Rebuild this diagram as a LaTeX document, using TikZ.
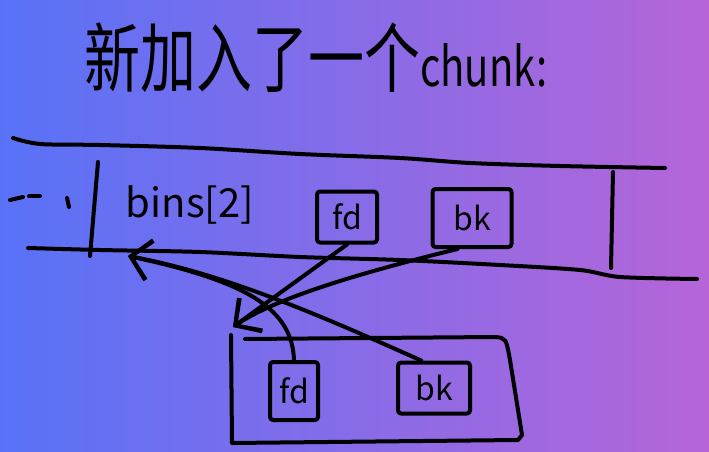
\documentclass[tikz,border=0pt]{standalone}
\usepackage{fontspec}
\setmainfont{Noto Sans CJK SC}
\usetikzlibrary{arrows.meta}
\definecolor{bgleft}{RGB}{88,114,247}
\definecolor{bgright}{RGB}{182,101,216}
\begin{document}
\begin{tikzpicture}[x=1pt,y=-1pt,
  ink/.style={line width=4pt, line cap=round, line join=round, draw=black},
  hbox/.style={ink, rectangle, rounded corners=3pt, inner sep=0pt, font=\fontsize{32}{34}\selectfont},
  conn/.style={ink, -{Straight Barb[length=19pt,width=40pt]}}]
\useasboundingbox (0,0) rectangle (709,452);
\shade[left color=bgleft, right color=bgright] (0,0) rectangle (709,452);

% title
\node[anchor=base west, inner sep=0pt, yscale=1.35, transform shape, font=\fontsize{56}{60}\selectfont] (title) at (84,86)
  {新加入了一个{\fontsize{40}{44}\selectfont chunk:}};

% bins band
\draw[ink] plot[smooth] coordinates {(13,138) (40,144) (100,145) (200,148) (300,154) (400,158) (470,163) (560,166) (665,168)};
\draw[ink] plot[smooth] coordinates {(28,248) (100,250) (200,252) (300,257) (400,260) (500,265) (580,270) (620,277) (697,279)};
\draw[ink] (98,162) -- (90,256);
\draw[ink] (613,172) -- (611,268);
\draw[ink] (10,200) -- (23,197);
\draw[ink] (29,196) -- (40,196);
\draw[ink] (67,198) -- (69,207);

\node[inner sep=0pt, font=\fontsize{40}{44}\selectfont] (bins) at (190,205) {bins[2]};
\node[hbox, minimum width=60pt, minimum height=51pt] (fdtop) at (347,217) {fd};
\node[hbox, minimum width=79pt, minimum height=58pt] (bktop) at (472,218) {bk};

% new chunk
\draw[ink] (245,339) -- (495,337) .. controls (506,338) .. (510,360) -- (522,435) -- (518,440) -- (232,443) -- (231,335);
\node[hbox, minimum width=48pt, minimum height=58pt] (fdin) at (294,391) {fd};
\node[hbox, minimum width=72pt, minimum height=51pt] (bkin) at (434,388) {bk};

\coordinate (binsarrow) at (128,256);
\coordinate (chunkarrow) at (233,327);

% connectors
\draw[conn] (fdtop.south) -- (chunkarrow);
\draw[conn] (bktop.-115) .. controls (380,268) and (280,295) .. (chunkarrow);
\draw[conn] (fdin.north) .. controls (292,310) and (250,282) .. (binsarrow);
\draw[conn] (bkin.115) .. controls (330,320) and (230,275) .. (binsarrow);
\end{tikzpicture}
\end{document}
